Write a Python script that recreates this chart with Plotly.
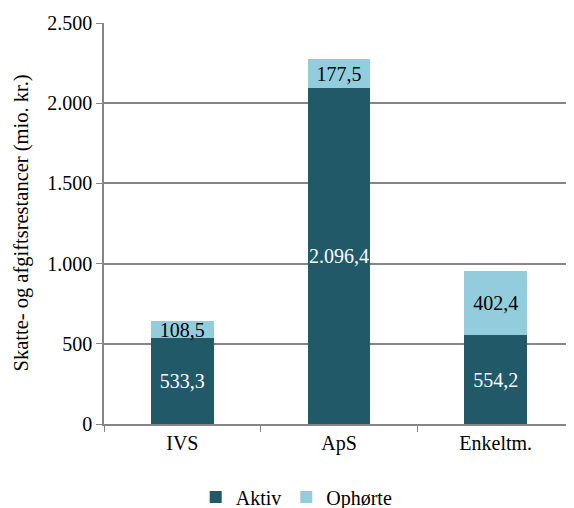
import plotly.graph_objects as go

categories = ["IVS", "ApS", "Enkeltm."]
aktiv = [533.3, 2096.4, 554.2]
ophoerte = [108.5, 177.5, 402.4]
tick_vals = [0, 500, 1000, 1500, 2000, 2500]
tick_text = ["0", "500", "1.000", "1.500", "2.000", "2.500"]
y_title = "Skatte- og afgiftsrestancer (mio. kr.)"


def dk(v):
    s = f"{v:,.1f}"
    return s.replace(",", "X").replace(".", ",").replace("X", ".")


font_family = "Liberation Serif, Times New Roman, serif"
fs = 20

fig = go.Figure()
fig.add_trace(go.Bar(
    x=categories, y=aktiv, name="Aktiv",
    marker=dict(color="#215968", line=dict(width=0)),
    text=[dk(v) for v in aktiv], textposition="inside", textangle=0,
    insidetextanchor="middle", constraintext="none",
    textfont=dict(color="white", size=fs, family=font_family),
    width=0.4,
))
fig.add_trace(go.Bar(
    x=categories, y=ophoerte, name="Ophørte",
    marker=dict(color="#93CDDD", line=dict(width=0)),
    text=[dk(v) for v in ophoerte], textposition="inside", textangle=0,
    insidetextanchor="middle", constraintext="none",
    textfont=dict(color="black", size=fs, family=font_family),
    width=0.4,
))

fig.update_layout(
    barmode="stack",
    width=566, height=500,
    margin=dict(l=96, r=0, t=15, b=84, autoexpand=False),
    paper_bgcolor="white", plot_bgcolor="white",
    font=dict(family=font_family, size=fs, color="black"),
    showlegend=True,
    legend=dict(orientation="h", x=0.41, xanchor="center", y=-0.182, yanchor="middle",
                font=dict(size=fs, family=font_family), traceorder="normal",
                itemwidth=30, tracegroupgap=0),
    uniformtext=dict(mode=False),
    annotations=[dict(
        text=y_title, xref="paper", yref="paper", x=0, y=0.5,
        xanchor="center", yanchor="middle", xshift=-83, textangle=-90,
        showarrow=False, font=dict(size=20.5, family=font_family, color="black"),
    )],
)
fig.update_xaxes(
    showline=True, linecolor="#868686", linewidth=1.5,
    ticks="outside", tickson="boundaries", ticklen=6, tickcolor="#868686",
    tickfont=dict(size=fs, family=font_family), showgrid=False, automargin=False,
)
fig.update_yaxes(
    range=[0, 2500], tickvals=tick_vals, ticktext=tick_text,
    showline=True, linecolor="#868686", linewidth=1.5,
    ticks="outside", ticklen=6, tickcolor="#868686",
    showgrid=True, gridcolor="#868686", gridwidth=1.5,
    zeroline=False, tickfont=dict(size=fs, family=font_family), automargin=False,
)

fig.write_html("out.html")
